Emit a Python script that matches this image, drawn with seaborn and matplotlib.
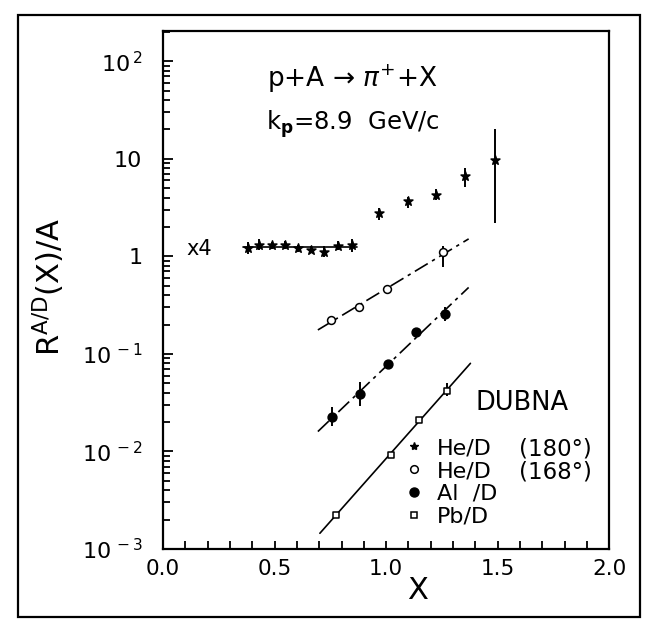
import numpy as np
import pandas as pd
import matplotlib
matplotlib.use("Agg")
import matplotlib.pyplot as plt
import seaborn as sns
from matplotlib.lines import Line2D
from matplotlib.patches import Rectangle
from matplotlib.ticker import LogLocator, NullFormatter, FixedLocator

# ---------------- data ----------------
# He/D (180 deg), shown x4
he180_x = [0.38, 0.43, 0.49, 0.545, 0.605, 0.665, 0.72, 0.785, 0.845, 0.97, 1.10, 1.225, 1.355, 1.49]
he180_y = [1.21, 1.31, 1.30, 1.30, 1.22, 1.17, 1.12, 1.27, 1.30, 2.77, 3.65, 4.27, 6.6, 9.8]
he180_lo = [1.05, 1.15, 1.20, 1.18, 1.12, 1.08, 0.98, 1.15, 1.12, 2.37, 3.12, 3.8, 5.1, 2.19]
he180_hi = [1.40, 1.50, 1.40, 1.42, 1.32, 1.27, 1.28, 1.42, 1.50, 3.12, 4.10, 4.9, 8.0, 20.2]

# He/D (168 deg)
he168_x = [0.755, 0.88, 1.003, 1.255]
he168_y = [0.223, 0.301, 0.46, 1.12]
he168_lo = [0.212, 0.286, 0.437, 0.78]
he168_hi = [0.234, 0.316, 0.483, 1.28]

# Al/D
al_x = [0.758, 0.883, 1.008, 1.135, 1.266]
al_y = [0.0228, 0.0386, 0.0784, 0.167, 0.257]
al_lo = [0.0183, 0.029, 0.072, 0.153, 0.219]
al_hi = [0.0284, 0.051, 0.085, 0.182, 0.300]

# Pb/D
pb_x = [0.775, 1.021, 1.146, 1.273]
pb_y = [0.00223, 0.0092, 0.021, 0.042]
pb_lo = [0.00210, 0.0087, 0.0199, 0.037]
pb_hi = [0.00236, 0.0097, 0.0222, 0.050]

# fitted lines
flat_x = [0.36, 0.87]
flat_y = [1.25, 1.25]
fit168_x = [0.694, 1.37]
fit168_y = [0.176, 1.51]
fital_x = [0.694, 1.37]
fital_y = [0.016, 0.48]
fitpb_x = [0.703, 1.378]
fitpb_y = [0.00145, 0.080]

xtick_vals = [0.0, 0.5, 1.0, 1.5, 2.0]
xtick_labels = ["0.0", "0.5", "1.0", "1.5", "2.0"]
ytick_vals = [1e-3, 1e-2, 1e-1, 1, 10, 100]
ytick_labels = ["10$^{\\,-3}$", "10$^{\\,-2}$", "10$^{\\,-1}$", "1", "10", "10$^{\\,2}$"]
legend_labels = ["He/D", "He/D", "Al  /D", "Pb/D"]
angle_labels = ["(180°)", "(168°)"]

# ---------------- style ----------------
sns.set_theme(style="ticks")
plt.rcParams['font.family'] = ['DejaVu Sans']
plt.rcParams['mathtext.fontset'] = 'dejavusans'
plt.rcParams['text.color'] = 'black'
plt.rcParams['axes.labelcolor'] = 'black'
plt.rcParams['xtick.color'] = 'black'
plt.rcParams['ytick.color'] = 'black'

fig = plt.figure(figsize=(6.55, 6.2), dpi=100)
fig.patch.set_facecolor("white")
ax = fig.add_axes([0.249, 0.1145, 0.681, 0.8355])
ax.set_facecolor("white")
ax.set_yscale("log")
ax.set_xlim(0, 2.0)
ax.set_ylim(1e-3, 10 ** 2.31)

# fitted lines
def fit_line(xs, ys, ls):
    df = pd.DataFrame({"x": xs, "y": ys})
    sns.lineplot(data=df, x="x", y="y", ax=ax, color="black", lw=1.2,
                 sort=False, estimator=None)
    ax.lines[-1].set_linestyle(ls)

fit_line(flat_x, flat_y, "-")
fit_line(fit168_x, fit168_y, (0, (9, 3, 2, 3)))
fit_line(fital_x, fital_y, (0, (9, 3, 2, 3)))
fit_line(fitpb_x, fitpb_y, "-")

# error bars + markers
def series(xs, ys, lo, hi, marker, face, size):
    y = np.array(ys); l = np.array(lo); h = np.array(hi)
    ax.errorbar(xs, ys, yerr=[y - l, h - y], fmt="none", ecolor="black",
                elinewidth=1.4, capsize=0, zorder=3)
    sns.scatterplot(x=xs, y=ys, marker=marker, s=size, color=face,
                    edgecolor="black", linewidth=1.1, ax=ax, legend=False, zorder=4)

series(he180_x, he180_y, he180_lo, he180_hi, "*", "black", 45)
series(he168_x, he168_y, he168_lo, he168_hi, "o", "white", 32)
series(al_x, al_y, al_lo, al_hi, "o", "black", 40)
series(pb_x, pb_y, pb_lo, pb_hi, "s", "white", 24)

# axes / ticks
for s in ax.spines.values():
    s.set_linewidth(1.6)
    s.set_color("black")
ax.set_xticks(xtick_vals, labels=xtick_labels)
ax.xaxis.set_minor_locator(FixedLocator(np.arange(0, 2.001, 0.1)))
ax.set_yticks(ytick_vals, labels=ytick_labels)
ax.yaxis.set_minor_locator(LogLocator(base=10, subs=range(2, 10), numticks=20))
ax.yaxis.set_minor_formatter(NullFormatter())
ax.tick_params(axis="both", which="both", direction="in", top=False, right=False,
               width=1.3, color="black", labelcolor="black")
ax.tick_params(axis="x", which="both", length=6, pad=7, labelsize=15.5)
ax.tick_params(axis="y", which="major", length=7, pad=15, labelsize=16)
ax.tick_params(axis="y", which="minor", length=5)

ax.set_xlabel("X", fontsize=22, color="black")
ax.xaxis.set_label_coords(0.57, -0.052)
ax.set_ylabel("R$^{\\mathrm{A/D}}$(X)/A", fontsize=22, color="black")
ax.yaxis.set_label_coords(-0.215, 0.505)

# annotations
ax.text(0.85, 66, "p+A → $\\pi^{+}$+X", ha="center", va="center", fontsize=19)
ax.text(0.85, 22.9, "k$_{\\mathbf{p}}$=8.9  GeV/c", ha="center", va="center", fontsize=17.5)
ax.text(0.16, 1.2, "x4", ha="center", va="center", fontsize=15)
ax.text(1.40, 0.0316, "DUBNA", ha="left", va="center", fontsize=18.5)

handles = [
    Line2D([], [], ls="none", marker="*", color="black", ms=6),
    Line2D([], [], ls="none", marker="o", mfc="white", mec="black", ms=5.5, mew=1.1),
    Line2D([], [], ls="none", marker="o", color="black", ms=6.5),
    Line2D([], [], ls="none", marker="s", mfc="white", mec="black", ms=5, mew=1.1),
]
leg = ax.legend(handles, legend_labels, loc="upper left", bbox_to_anchor=(0.54, 0.214),
                frameon=False, fontsize=16, handlelength=0.9, handletextpad=0.6,
                borderpad=0, borderaxespad=0, labelspacing=0.13)
for t in leg.get_texts():
    t.set_color("black")
ax.text(1.595, 0.0105, angle_labels[0], ha="left", va="center", fontsize=16.5)
ax.text(1.595, 0.0061, angle_labels[1], ha="left", va="center", fontsize=16.5)

# outer frame of the figure
fig.add_artist(Rectangle((0.0275, 0.005), 0.95, 0.971, transform=fig.transFigure,
                         fill=False, lw=1.6, ec="black"))

fig.savefig("out.png", dpi=100, facecolor="white")
